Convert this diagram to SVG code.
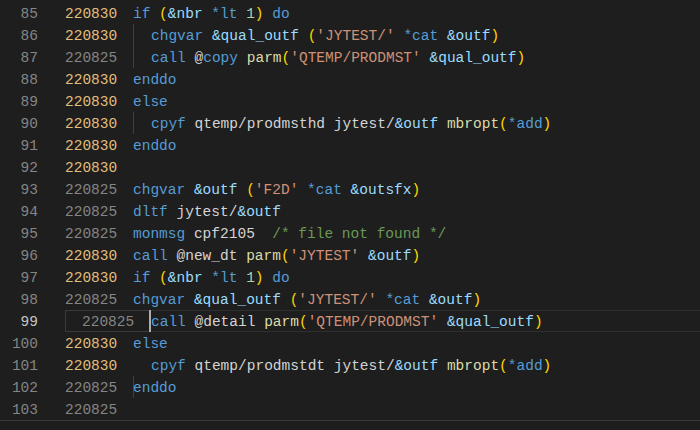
<svg xmlns="http://www.w3.org/2000/svg" width="700" height="430" viewBox="0 0 700 430">
<style>
text{font-family:"Liberation Mono","DejaVu Sans Mono",monospace;font-size:14.5px;white-space:pre}
.ln{fill:#858585;text-anchor:end}
.lc{fill:#c6c6c6;text-anchor:end}
.n{fill:#e2bd7b}
.g{fill:#858585}
.k{fill:#569cd6}
.v{fill:#9cdcfe}
.s{fill:#ce9178}
.f{fill:#dcdcaa}
.p{fill:#ffd700}
.d{fill:#b5cea8}
.c{fill:#6a9955}
.t{fill:#d4d4d4}
.guide{stroke:#404040;stroke-width:1}
</style>
<rect width="700" height="430" fill="#1e1e1e"/>
<g id="highlight">
<line x1="65" y1="310.5" x2="700" y2="310.5" stroke="#2f2f2f"/>
<line x1="65" y1="331.5" x2="700" y2="331.5" stroke="#2f2f2f"/>
<rect x="65.5" y="310.5" width="84" height="21" fill="none" stroke="#3a3a3a"/>
<line x1="150" y1="310" x2="150" y2="332" stroke="#aeafad" stroke-width="2"/>
</g>
<g id="guides">
<line class="guide" x1="133.5" y1="24" x2="133.5" y2="68"/>
<line class="guide" x1="133.5" y1="112" x2="133.5" y2="134"/>
<line class="guide" x1="133.5" y1="376" x2="133.5" y2="398"/>
</g>
<line x1="0" y1="420.5" x2="700" y2="420.5" stroke="#3a3a3a"/>
<g id="linenumbers">
<text class="ln" x="38" y="18">85</text>
<text class="ln" x="38" y="40">86</text>
<text class="ln" x="38" y="62">87</text>
<text class="ln" x="38" y="84">88</text>
<text class="ln" x="38" y="106">89</text>
<text class="ln" x="38" y="128">90</text>
<text class="ln" x="38" y="150">91</text>
<text class="ln" x="38" y="172">92</text>
<text class="ln" x="38" y="194">93</text>
<text class="ln" x="38" y="216">94</text>
<text class="ln" x="38" y="238">95</text>
<text class="ln" x="38" y="260">96</text>
<text class="ln" x="38" y="282">97</text>
<text class="ln" x="38" y="304">98</text>
<text class="lc" x="38" y="326">99</text>
<text class="ln" x="38" y="348">100</text>
<text class="ln" x="38" y="370">101</text>
<text class="ln" x="38" y="392">102</text>
<text class="ln" x="38" y="414">103</text>
</g>
<g id="dates">
<text class="n" x="65" y="18">220830</text>
<text class="n" x="65" y="40">220830</text>
<text class="g" x="65" y="62">220825</text>
<text class="n" x="65" y="84">220830</text>
<text class="n" x="65" y="106">220830</text>
<text class="n" x="65" y="128">220830</text>
<text class="n" x="65" y="150">220830</text>
<text class="n" x="65" y="172">220830</text>
<text class="g" x="65" y="194">220825</text>
<text class="g" x="65" y="216">220825</text>
<text class="g" x="65" y="238">220825</text>
<text class="n" x="65" y="260">220830</text>
<text class="n" x="65" y="282">220830</text>
<text class="g" x="65" y="304">220825</text>
<text class="g" x="82" y="326">220825</text>
<text class="n" x="65" y="348">220830</text>
<text class="n" x="65" y="370">220830</text>
<text class="g" x="65" y="392">220825</text>
<text class="g" x="65" y="414">220825</text>
</g>
<g id="code">
<text x="133" y="18"><tspan class="k">if</tspan> <tspan class="p">(</tspan><tspan class="v">&amp;nbr</tspan> <tspan class="k">*lt</tspan> <tspan class="d">1</tspan><tspan class="p">)</tspan> <tspan class="k">do</tspan></text>
<text x="151" y="40"><tspan class="k">chgvar</tspan> <tspan class="v">&amp;qual_outf</tspan> <tspan class="p">(</tspan><tspan class="s">'JYTEST/'</tspan> <tspan class="k">*cat</tspan> <tspan class="v">&amp;outf</tspan><tspan class="p">)</tspan></text>
<text x="151" y="62"><tspan class="k">call</tspan> <tspan class="t">@</tspan><tspan class="k">copy</tspan> <tspan class="f">parm</tspan><tspan class="p">(</tspan><tspan class="s">'QTEMP/PRODMST'</tspan> <tspan class="v">&amp;qual_outf</tspan><tspan class="p">)</tspan></text>
<text x="133" y="84" class="k">enddo</text>
<text x="133" y="106" class="k">else</text>
<text x="151" y="128"><tspan class="k">cpyf</tspan> <tspan class="t">qtemp/prodmsthd jytest/</tspan><tspan class="v">&amp;outf</tspan> <tspan class="f">mbropt</tspan><tspan class="p">(</tspan><tspan class="k">*add</tspan><tspan class="p">)</tspan></text>
<text x="133" y="150" class="k">enddo</text>
<text x="133" y="194"><tspan class="k">chgvar</tspan> <tspan class="v">&amp;outf</tspan> <tspan class="p">(</tspan><tspan class="s">'F2D'</tspan> <tspan class="k">*cat</tspan> <tspan class="v">&amp;outsfx</tspan><tspan class="p">)</tspan></text>
<text x="133" y="216"><tspan class="k">dltf</tspan> <tspan class="t">jytest/</tspan><tspan class="v">&amp;outf</tspan></text>
<text x="133" y="238"><tspan class="k">monmsg</tspan> <tspan class="t">cpf2105</tspan>  <tspan class="c">/* file not found */</tspan></text>
<text x="133" y="260"><tspan class="k">call</tspan> <tspan class="t">@new_dt</tspan> <tspan class="f">parm</tspan><tspan class="p">(</tspan><tspan class="s">'JYTEST'</tspan> <tspan class="v">&amp;outf</tspan><tspan class="p">)</tspan></text>
<text x="133" y="282"><tspan class="k">if</tspan> <tspan class="p">(</tspan><tspan class="v">&amp;nbr</tspan> <tspan class="k">*lt</tspan> <tspan class="d">1</tspan><tspan class="p">)</tspan> <tspan class="k">do</tspan></text>
<text x="133" y="304"><tspan class="k">chgvar</tspan> <tspan class="v">&amp;qual_outf</tspan> <tspan class="p">(</tspan><tspan class="s">'JYTEST/'</tspan> <tspan class="k">*cat</tspan> <tspan class="v">&amp;outf</tspan><tspan class="p">)</tspan></text>
<text x="151" y="326"><tspan class="k">call</tspan> <tspan class="t">@detail</tspan> <tspan class="f">parm</tspan><tspan class="p">(</tspan><tspan class="s">'QTEMP/PRODMST'</tspan> <tspan class="v">&amp;qual_outf</tspan><tspan class="p">)</tspan></text>
<text x="133" y="348" class="k">else</text>
<text x="151" y="370"><tspan class="k">cpyf</tspan> <tspan class="t">qtemp/prodmstdt jytest/</tspan><tspan class="v">&amp;outf</tspan> <tspan class="f">mbropt</tspan><tspan class="p">(</tspan><tspan class="k">*add</tspan><tspan class="p">)</tspan></text>
<text x="133" y="392" class="k">enddo</text>
</g>
</svg>
